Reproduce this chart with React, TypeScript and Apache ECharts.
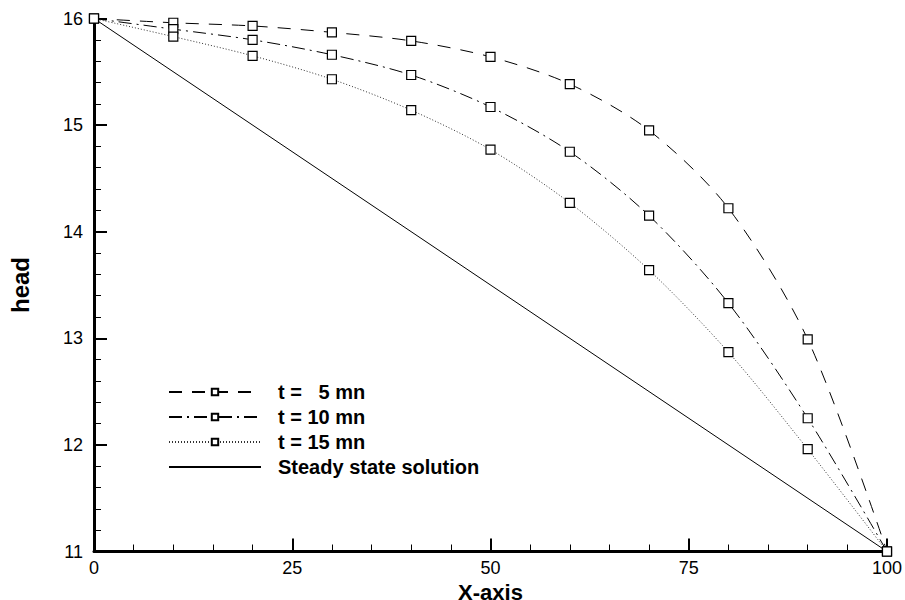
import React, { useEffect, useRef } from "react";
import * as echarts from "echarts";

const xValues = [0, 10, 20, 30, 40, 50, 60, 70, 80, 90, 100];
const head5 = [16, 15.96, 15.93, 15.87, 15.79, 15.64, 15.385, 14.95, 14.22, 12.99, 11];
const head10 = [16, 15.9, 15.8, 15.66, 15.47, 15.17, 14.75, 14.15, 13.33, 12.25, 11];
const head15 = [16, 15.83, 15.65, 15.43, 15.14, 14.77, 14.27, 13.64, 12.87, 11.96, 11];
const steadyX = [0, 100];
const steadyHead = [16, 11];
const seriesNames = ["t =   5 mn", "t = 10 mn", "t = 15 mn", "Steady state solution"];

const pair = (xs: number[], ys: number[]) => xs.map((x, i) => [x, ys[i]]);

export default function App() {
  const ref = useRef<HTMLDivElement>(null);
  useEffect(() => {
    if (!ref.current) return;
    const chart = echarts.init(ref.current, null, { renderer: "svg" });
    const font = "'Liberation Sans', Arial, sans-serif";
    const markerSeries = (name: string, data: number[][], dash: any, color = "#000") => ({
      name,
      type: "line",
      data,
      smooth: 0.3,
      symbol: "rect",
      symbolSize: 9,
      itemStyle: { color: "#fff", borderColor: "#000", borderWidth: 1.2 },
      lineStyle: { color, width: 1, type: dash },
      z: 3,
    });
    const axisCommon = {
      axisLine: { show: true, onZero: false, lineStyle: { color: "#000", width: 3, opacity: 1 } },
      axisTick: { show: true, inside: true, length: 13, lineStyle: { color: "#000", width: 2, opacity: 1 } },
      minorTick: { show: true, splitNumber: 5, length: 7, lineStyle: { color: "#000", width: 1, opacity: 1 } },
      splitLine: { show: false },
    };
    chart.setOption({
      animation: false,
      grid: { left: 94, right: 18, top: 18.5, bottom: 48.5, containLabel: false, outerBoundsMode: "none" },
      xAxis: {
        type: "value",
        min: 0,
        max: 100,
        interval: 25,
        name: "X-axis",
        nameLocation: "middle",
        nameGap: 23,
        nameTextStyle: { fontFamily: font, fontSize: 22, fontWeight: "bold", color: "#000" },
        axisLabel: { fontFamily: font, fontSize: 18, color: "#000", margin: 7 },
        ...axisCommon,
      },
      yAxis: {
        type: "value",
        min: 11,
        max: 16,
        interval: 1,
        name: "head",
        nameLocation: "middle",
        nameGap: 62,
        nameTextStyle: { fontFamily: font, fontSize: 24, fontWeight: "bold", color: "#000" },
        axisLabel: { fontFamily: font, fontSize: 18, color: "#000", margin: 11 },
        ...axisCommon,
      },
      legend: {
        orient: "vertical",
        left: 163,
        top: 377,
        itemWidth: 92,
        itemHeight: 8,
        itemGap: 5,
        selectedMode: false,
        textStyle: { fontFamily: font, fontSize: 20, fontWeight: "bold", color: "#000", padding: [0, 0, 0, 12] },
        data: [
          seriesNames[0],
          seriesNames[1],
          seriesNames[2],
          { name: seriesNames[3], itemStyle: { opacity: 0 } },
        ],
      },
      series: [
        markerSeries(seriesNames[0], pair(xValues, head5), [13, 10]),
        markerSeries(seriesNames[1], pair(xValues, head10), [13, 5, 2, 5]),
        markerSeries(seriesNames[2], pair(xValues, head15), [1, 2], "#333"),
        {
          name: seriesNames[3],
          type: "line",
          data: pair(steadyX, steadyHead),
          symbol: "none",
          showSymbol: false,
          itemStyle: { color: "#000" },
          lineStyle: { color: "#000", width: 1, type: "solid" },
          z: 2,
        },
      ],
    });
    return () => chart.dispose();
  }, []);
  return <div ref={ref} style={{ width: 905, height: 600, position: "absolute", left: 0, top: 0, background: "#fff" }} />;
}
